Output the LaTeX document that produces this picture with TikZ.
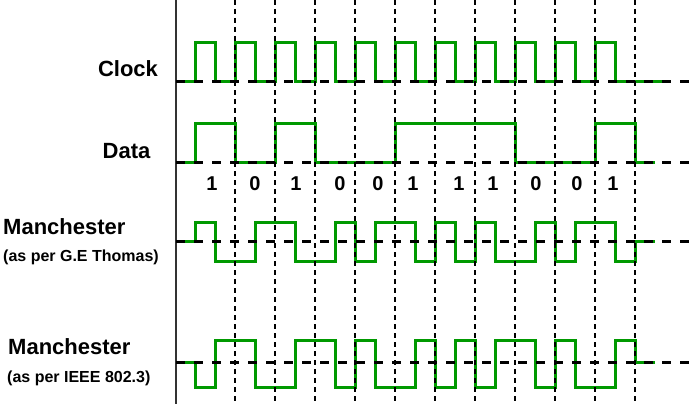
\documentclass[tikz,border=0pt]{standalone}
\usepackage{fontspec}
\setmainfont{Liberation Sans}
\definecolor{siggreen}{RGB}{0,153,0}
\begin{document}
\begin{tikzpicture}[x=1pt, y=-1pt, sig line/.style={draw=siggreen, line width=3pt, line join=miter}, base line/.style={draw=black, line width=3pt, dash pattern=on 9pt off 9pt}, grid line/.style={draw=black, line width=1.5pt, dash pattern=on 5pt off 4pt}, name node/.style={inner sep=0pt, font=\fontsize{22}{26}\selectfont\bfseries}, sub node/.style={inner sep=0pt, font=\fontsize{16}{19}\selectfont\bfseries}, bit node/.style={inner sep=0pt, anchor=base, font=\fontsize{20}{24}\selectfont\bfseries}]
\useasboundingbox (0,0) rectangle (690,404);
% labels
\node[name node, anchor=base] (C) at (128,76) {Clock};
\node[name node, anchor=base] (D) at (126.5,158) {Data};
\node[name node, anchor=base west] (M1) at (3,234) {Manchester};
\node[sub node, anchor=base west] (T1) at (3,261) {(as per G.E Thomas)};
\node[name node, anchor=base west] (M2) at (8,354) {Manchester};
\node[sub node, anchor=base west] (T2) at (7,382) {(as per IEEE 802.3)};
\foreach \x/\b [count=\i] in {212/1, 255/0, 296/1, 340/0, 378/0, 413/1, 459/1, 493/1, 536/0, 577/0, 613/1}
  \node[bit node] (bit\i) at (\x,190) {\b};
% clock
\draw[sig line] (176,81) foreach \i in {0,...,10} { -- ({195+40*\i},81) -- ({195+40*\i},43) -- ({215+40*\i},43) -- ({215+40*\i},81) } -- (667,81);
% data
\draw[sig line] (176,162) -- (195,162) -- (195,123) -- (235,123) -- (235,162) -- (275,162) -- (275,123) -- (315,123) -- (315,162) -- (395,162) -- (395,123) -- (515,123) -- (515,162) -- (595,162) -- (595,123) -- (635,123) -- (635,162) -- (655,162);
% manchester, G.E Thomas
\draw[sig line] (176,241) -- (195,241) foreach \a/\b [count=\i from 0] in {222/261, 261/222, 222/261, 261/222, 261/222, 222/261, 222/261, 222/261, 261/222, 261/222, 222/261} { -- ({195+40*\i},\a) -- ({215+40*\i},\a) -- ({215+40*\i},\b) -- ({235+40*\i},\b) } -- (635,241) -- (655,241);
% manchester, IEEE 802.3
\draw[sig line] (176,362) -- (195,362) foreach \a/\b [count=\i from 0] in {387/340, 340/387, 387/340, 340/387, 340/387, 387/340, 387/340, 387/340, 340/387, 340/387, 387/340} { -- ({195+40*\i},\a) -- ({215+40*\i},\a) -- ({215+40*\i},\b) -- ({235+40*\i},\b) } -- (635,362) -- (655,362);
% axis and grid
\draw[black!80, line width=2pt] (176,0) -- (176,404);
\foreach \y in {81,162,241,362}
  \draw[base line] (176,\y) -- (690,\y);
\foreach \x in {235,275,...,635}
  \draw[grid line] (\x,0) -- (\x,404);
\end{tikzpicture}
\end{document}
